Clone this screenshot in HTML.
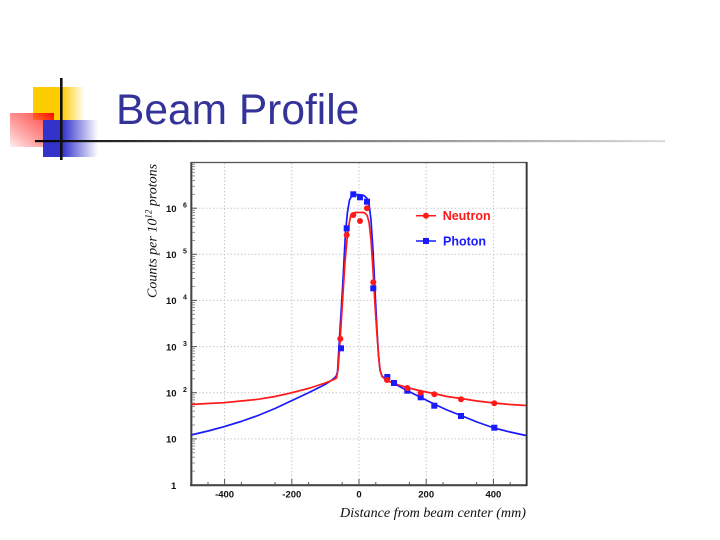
<!DOCTYPE html>
<html><head><meta charset="utf-8"><style>
html,body{margin:0;padding:0;background:#fff;}
svg{display:block;}
</style></head><body>
<svg width="720" height="540" viewBox="0 0 720 540" xmlns="http://www.w3.org/2000/svg">
<defs>
<linearGradient id="gy" x1="0" y1="0" x2="1" y2="0">
<stop offset="0" stop-color="#FFCC00"/><stop offset="0.55" stop-color="#FFCC00"/><stop offset="1" stop-color="#FFCC00" stop-opacity="0"/>
</linearGradient>
<linearGradient id="gr" x1="1" y1="0" x2="0" y2="1">
<stop offset="0" stop-color="#FF0000"/><stop offset="0.3" stop-color="#FF3333" stop-opacity="0.7"/><stop offset="1" stop-color="#FF0000" stop-opacity="0.06"/>
</linearGradient>
<linearGradient id="gb" x1="0" y1="0" x2="1" y2="0">
<stop offset="0" stop-color="#3333CC"/><stop offset="0.35" stop-color="#3333CC"/><stop offset="1" stop-color="#3333CC" stop-opacity="0"/>
</linearGradient>
<linearGradient id="gl" x1="0" y1="0" x2="1" y2="0">
<stop offset="0" stop-color="#000"/><stop offset="0.35" stop-color="#666"/><stop offset="1" stop-color="#ddd"/>
</linearGradient>
</defs>

<!-- logo -->
<rect x="33" y="87" width="52" height="33" fill="url(#gy)"/>
<rect x="10" y="113" width="44" height="34" fill="url(#gr)"/>
<rect x="43" y="120" width="55" height="37" fill="url(#gb)"/>
<rect x="35" y="140" width="630" height="2.2" fill="url(#gl)"/>
<rect x="60" y="78" width="2.6" height="82" fill="#111"/>

<!-- title -->
<text x="116" y="124" font-family="'Liberation Sans', sans-serif" font-size="42.5" fill="#333399">Beam Profile</text>

<!-- grid -->
<g stroke="#c8c8c8" stroke-width="1" stroke-dasharray="1.5,2" fill="none">
<line x1="224.6" y1="163" x2="224.6" y2="485"/>
<line x1="291.8" y1="163" x2="291.8" y2="485"/>
<line x1="359" y1="163" x2="359" y2="485"/>
<line x1="426.2" y1="163" x2="426.2" y2="485"/>
<line x1="493.4" y1="163" x2="493.4" y2="485"/>
<line x1="192" y1="438.9" x2="526" y2="438.9"/>
<line x1="192" y1="392.7" x2="526" y2="392.7"/>
<line x1="192" y1="346.6" x2="526" y2="346.6"/>
<line x1="192" y1="300.4" x2="526" y2="300.4"/>
<line x1="192" y1="254.3" x2="526" y2="254.3"/>
<line x1="192" y1="208.2" x2="526" y2="208.2"/>
</g>

<!-- frame -->
<rect x="191.5" y="162.5" width="335" height="322.5" fill="none" stroke="#555" stroke-width="1.3"/>
<line x1="191.3" y1="162" x2="191.3" y2="486" stroke="#444" stroke-width="2"/>
<line x1="190" y1="485.2" x2="527" y2="485.2" stroke="#444" stroke-width="2"/>
<line x1="526.7" y1="162" x2="526.7" y2="486" stroke="#333" stroke-width="1.8"/>

<!-- y ticks -->
<g stroke="#555" stroke-width="1">
<line x1="192" y1="438.9" x2="197" y2="438.9"/>
<line x1="192" y1="392.7" x2="197" y2="392.7"/>
<line x1="192" y1="346.6" x2="197" y2="346.6"/>
<line x1="192" y1="300.4" x2="197" y2="300.4"/>
<line x1="192" y1="254.3" x2="197" y2="254.3"/>
<line x1="192" y1="208.2" x2="197" y2="208.2"/>
</g>
<g stroke="#777" stroke-width="0.8">
<line x1="192" y1="471.1" x2="195" y2="471.1"/><line x1="192" y1="463.0" x2="195" y2="463.0"/><line x1="192" y1="457.2" x2="195" y2="457.2"/><line x1="192" y1="452.7" x2="195" y2="452.7"/><line x1="192" y1="449.1" x2="195" y2="449.1"/><line x1="192" y1="446.0" x2="195" y2="446.0"/><line x1="192" y1="443.3" x2="195" y2="443.3"/><line x1="192" y1="441.0" x2="195" y2="441.0"/>
<line x1="192" y1="425.0" x2="195" y2="425.0"/><line x1="192" y1="416.9" x2="195" y2="416.9"/><line x1="192" y1="411.1" x2="195" y2="411.1"/><line x1="192" y1="406.6" x2="195" y2="406.6"/><line x1="192" y1="403.0" x2="195" y2="403.0"/><line x1="192" y1="399.9" x2="195" y2="399.9"/><line x1="192" y1="397.2" x2="195" y2="397.2"/><line x1="192" y1="394.9" x2="195" y2="394.9"/>
<line x1="192" y1="378.8" x2="195" y2="378.8"/><line x1="192" y1="370.7" x2="195" y2="370.7"/><line x1="192" y1="364.9" x2="195" y2="364.9"/><line x1="192" y1="360.4" x2="195" y2="360.4"/><line x1="192" y1="356.8" x2="195" y2="356.8"/><line x1="192" y1="353.7" x2="195" y2="353.7"/><line x1="192" y1="351.0" x2="195" y2="351.0"/><line x1="192" y1="348.7" x2="195" y2="348.7"/>
<line x1="192" y1="332.7" x2="195" y2="332.7"/><line x1="192" y1="324.6" x2="195" y2="324.6"/><line x1="192" y1="318.8" x2="195" y2="318.8"/><line x1="192" y1="314.3" x2="195" y2="314.3"/><line x1="192" y1="310.7" x2="195" y2="310.7"/><line x1="192" y1="307.6" x2="195" y2="307.6"/><line x1="192" y1="304.9" x2="195" y2="304.9"/><line x1="192" y1="302.6" x2="195" y2="302.6"/>
<line x1="192" y1="286.5" x2="195" y2="286.5"/><line x1="192" y1="278.4" x2="195" y2="278.4"/><line x1="192" y1="272.6" x2="195" y2="272.6"/><line x1="192" y1="268.1" x2="195" y2="268.1"/><line x1="192" y1="264.5" x2="195" y2="264.5"/><line x1="192" y1="261.4" x2="195" y2="261.4"/><line x1="192" y1="258.7" x2="195" y2="258.7"/><line x1="192" y1="256.4" x2="195" y2="256.4"/>
<line x1="192" y1="240.4" x2="195" y2="240.4"/><line x1="192" y1="232.3" x2="195" y2="232.3"/><line x1="192" y1="226.5" x2="195" y2="226.5"/><line x1="192" y1="222.0" x2="195" y2="222.0"/><line x1="192" y1="218.4" x2="195" y2="218.4"/><line x1="192" y1="215.3" x2="195" y2="215.3"/><line x1="192" y1="212.6" x2="195" y2="212.6"/><line x1="192" y1="210.3" x2="195" y2="210.3"/>
<line x1="192" y1="194.3" x2="195" y2="194.3"/><line x1="192" y1="186.2" x2="195" y2="186.2"/><line x1="192" y1="180.4" x2="195" y2="180.4"/><line x1="192" y1="175.9" x2="195" y2="175.9"/><line x1="192" y1="172.3" x2="195" y2="172.3"/><line x1="192" y1="169.2" x2="195" y2="169.2"/><line x1="192" y1="166.5" x2="195" y2="166.5"/><line x1="192" y1="164.2" x2="195" y2="164.2"/>
</g>

<!-- x ticks -->
<g stroke="#555" stroke-width="1">
<line x1="224.6" y1="485" x2="224.6" y2="479"/><line x1="291.8" y1="485" x2="291.8" y2="479"/><line x1="359" y1="485" x2="359" y2="479"/><line x1="426.2" y1="485" x2="426.2" y2="479"/><line x1="493.4" y1="485" x2="493.4" y2="479"/>
<line x1="208" y1="485" x2="208" y2="482"/><line x1="241.4" y1="485" x2="241.4" y2="482"/><line x1="275" y1="485" x2="275" y2="482"/><line x1="308.6" y1="485" x2="308.6" y2="482"/><line x1="342.2" y1="485" x2="342.2" y2="482"/><line x1="375.8" y1="485" x2="375.8" y2="482"/><line x1="409.4" y1="485" x2="409.4" y2="482"/><line x1="443" y1="485" x2="443" y2="482"/><line x1="476.6" y1="485" x2="476.6" y2="482"/><line x1="510.2" y1="485" x2="510.2" y2="482"/>
</g>

<!-- y labels -->
<g font-family="'Liberation Sans', sans-serif" font-weight="bold" fill="#111">
<text x="166" y="212" font-size="9.5">10</text><text x="183" y="207.5" font-size="7">6</text>
<text x="166" y="258" font-size="9.5">10</text><text x="183" y="253.5" font-size="7">5</text>
<text x="166" y="304.2" font-size="9.5">10</text><text x="183" y="299.7" font-size="7">4</text>
<text x="166" y="350.3" font-size="9.5">10</text><text x="183" y="345.8" font-size="7">3</text>
<text x="166" y="396.5" font-size="9.5">10</text><text x="183" y="392" font-size="7">2</text>
<text x="166" y="442.6" font-size="9.5">10</text>
<text x="171" y="489" font-size="9.5">1</text>
</g>

<!-- x labels -->
<g font-family="'Liberation Sans', sans-serif" font-weight="bold" font-size="9.5" fill="#111" text-anchor="middle">
<text x="224.6" y="497.3">-400</text>
<text x="291.8" y="497.3">-200</text>
<text x="359" y="497.3">0</text>
<text x="426.2" y="497.3">200</text>
<text x="493.4" y="497.3">400</text>
</g>

<!-- axis titles -->
<text x="340" y="517" font-family="'Liberation Serif', serif" font-style="italic" font-size="13.5" fill="#111" textLength="186" lengthAdjust="spacingAndGlyphs">Distance from beam center (mm)</text>
<text transform="translate(156.5,298) rotate(-90)" font-family="'Liberation Serif', serif" font-style="italic" font-size="14" fill="#111">Counts per 10<tspan dy="-5" font-size="9">12</tspan><tspan dy="5"> protons</tspan></text>

<!-- curves -->
<polyline fill="none" stroke="#1a1aff" stroke-width="1.7" stroke-linejoin="round" points="191,435 208,431 224,426.7 241,421.5 258,415.5 275,408.5 292,400.5 308,393 325,384.5 332,380 336,376.5 337.5,372 338.5,355 340,330 343,280 345.5,232 347.5,212 349.5,200 352,195.5 358,194.5 364,195.5 367,198.5 369,204 371,220 373,250 375,290 377,330 378.5,355 380,370 382,376 386,379.5 394,383.5 407,390.5 421,397.5 434,404 447,410 461,415.5 477,422 494,428 510,432 526,435.5"/>
<polyline fill="none" stroke="#ff1a1a" stroke-width="1.7" stroke-linejoin="round" points="191,404.5 208,403.5 224,402.7 241,401 258,399.3 275,396.5 292,392.7 310,388 325,383 333,380 336.5,378 338,370 339.5,350 342,310 345,262 347,240 349,224 351,214.5 355,212.5 364,212.5 367,215 369,222 371,240 373,270 375,305 377,335 378.5,355 380,370 382,376.5 386,380 394,383.5 407,387.5 421,391 434,393.5 447,396.5 461,398.5 477,401 494,403 510,404.5 526,405.5"/>

<!-- photon markers -->
<g fill="#1a1aff">
<rect x="338" y="345.3" width="6" height="6"/>
<rect x="343.7" y="225.3" width="6" height="6"/>
<rect x="350.3" y="191.3" width="6" height="6"/>
<rect x="357" y="194.3" width="6" height="6"/>
<rect x="364" y="198.7" width="6" height="6"/>
<rect x="370.3" y="285.3" width="6" height="6"/>
<rect x="384.3" y="374" width="6" height="6"/>
<rect x="391" y="380" width="6" height="6"/>
<rect x="404.3" y="387.7" width="6" height="6"/>
<rect x="417.7" y="394.3" width="6" height="6"/>
<rect x="431.3" y="402.7" width="6" height="6"/>
<rect x="458" y="413" width="6" height="6"/>
<rect x="491.3" y="424.7" width="6" height="6"/>
</g>
<!-- neutron markers -->
<g fill="#ff1a1a">
<circle cx="340.3" cy="338.7" r="3"/>
<circle cx="346.7" cy="235" r="3"/>
<circle cx="353.3" cy="215" r="3"/>
<circle cx="360" cy="221" r="3"/>
<circle cx="367" cy="208.3" r="3"/>
<circle cx="373.3" cy="282.3" r="3"/>
<circle cx="387" cy="380" r="3"/>
<circle cx="407.3" cy="388" r="3"/>
<circle cx="420.7" cy="392.7" r="3"/>
<circle cx="434.3" cy="394.3" r="3"/>
<circle cx="461" cy="399.3" r="3"/>
<circle cx="494.3" cy="403.3" r="3"/>
</g>

<!-- legend -->
<line x1="416" y1="215.7" x2="436" y2="215.7" stroke="#ff1a1a" stroke-width="1.5"/>
<circle cx="426" cy="215.7" r="3" fill="#ff1a1a"/>
<text x="442.7" y="220.2" font-family="'Liberation Sans', sans-serif" font-weight="bold" font-size="12.5" fill="#ff1a1a">Neutron</text>
<line x1="416" y1="241" x2="436" y2="241" stroke="#1a1aff" stroke-width="1.5"/>
<rect x="423" y="238" width="6" height="6" fill="#1a1aff"/>
<text x="443" y="245.5" font-family="'Liberation Sans', sans-serif" font-weight="bold" font-size="12.5" fill="#1a1aff">Photon</text>
</svg>
</body></html>
